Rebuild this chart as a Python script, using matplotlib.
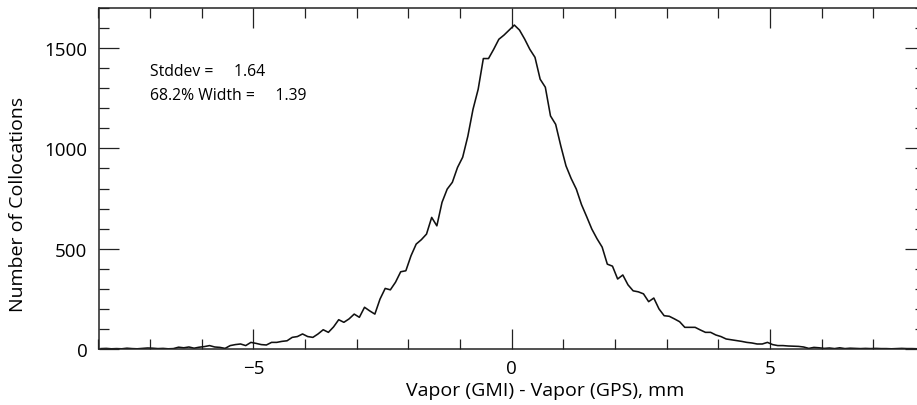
import numpy as np
import matplotlib.pyplot as plt
from matplotlib.ticker import MultipleLocator

plt.rcParams['font.family'] = ['Open Sans', 'DejaVu Sans']

# Histogram of GMI - GPS vapor differences, bin centres every 0.1 mm
bin_centers = np.arange(-7.95, 8.0, 0.1)
counts_left = [
    2, 3, 1, 2, 1, 4, 2, 1, 3, 5,
    4, 2, 3, 1, 2, 9, 6, 10, 4, 9,
    12, 17, 10, 8, 3, 17, 22, 25, 17, 33,
    28, 22, 20, 33, 33, 38, 41, 58, 62, 75,
    62, 58, 75, 96, 83, 110, 146, 133, 150, 174,
    158, 208, 190, 174, 249, 302, 295, 333, 385, 390,
    465, 523, 545, 573, 656, 614, 731, 797, 831, 905,
    956, 1061, 1195, 1295, 1448, 1448, 1494, 1544, 1565, 1590,
]
counts_right = [
    1615, 1590, 1545, 1494, 1454, 1345, 1305, 1162, 1120, 1012,
    913, 850, 797, 720, 660, 598, 550, 508, 423, 413,
    349, 369, 320, 290, 285, 275, 236, 254, 200, 166,
    163, 150, 136, 108, 108, 108, 95, 83, 83, 70,
    62, 50, 46, 42, 38, 33, 30, 25, 25, 33,
    22, 17, 17, 15, 14, 13, 10, 3, 8, 6,
    3, 5, 2, 6, 2, 4, 3, 2, 3, 2,
    3, 2, 2, 1, 2, 3, 2, 2, 1, 1,
]
counts = np.array(counts_left + counts_right)

stddev = 1.64
width682 = 1.39

fig = plt.figure(figsize=(9.17, 4.06), dpi=100)
# right spine sits just past the image edge, as in the reference
ax = fig.add_axes([98.5 / 917, 56 / 406, 826.5 / 917, 341 / 406])

ax.plot(bin_centers[:len(counts)], counts, color='#111111', lw=1.15)

ax.set_xlim(-8, 8)
ax.set_ylim(0, 1700)
ax.xaxis.set_minor_locator(MultipleLocator(1))
ax.yaxis.set_major_locator(MultipleLocator(500))
ax.yaxis.set_minor_locator(MultipleLocator(100))
ax.set_xticks([-5, 0, 5])
ax.set_xticklabels(['\u22125', '0', '5'])

ax.tick_params(which='both', direction='in', top=True, right=True,
               width=0.9, color='#222222', labelsize=13.5)
ax.tick_params(which='major', length=14.5, pad=7)
ax.tick_params(which='minor', length=7.5)
ax.tick_params(axis='y', which='major', pad=8)
for s in ax.spines.values():
    s.set_linewidth(1.1)
    s.set_color('#222222')

ax.set_xlabel('Vapor (GMI) - Vapor (GPS), mm', fontsize=14)
ax.set_ylabel('Number of Collocations', fontsize=14)
ax.xaxis.set_label_coords(0.540, -0.094)
ax.yaxis.set_label_coords(-0.0865, 0.428)

fig.text(150 / 917, 1 - 72 / 406, 'Stddev =     %.2f' % stddev,
         fontsize=11.3, va='center', ha='left')
fig.text(150 / 917, 1 - 96 / 406, '68.2%% Width =     %.2f' % width682,
         fontsize=11.3, va='center', ha='left')

fig.savefig('out.png', dpi=100)
